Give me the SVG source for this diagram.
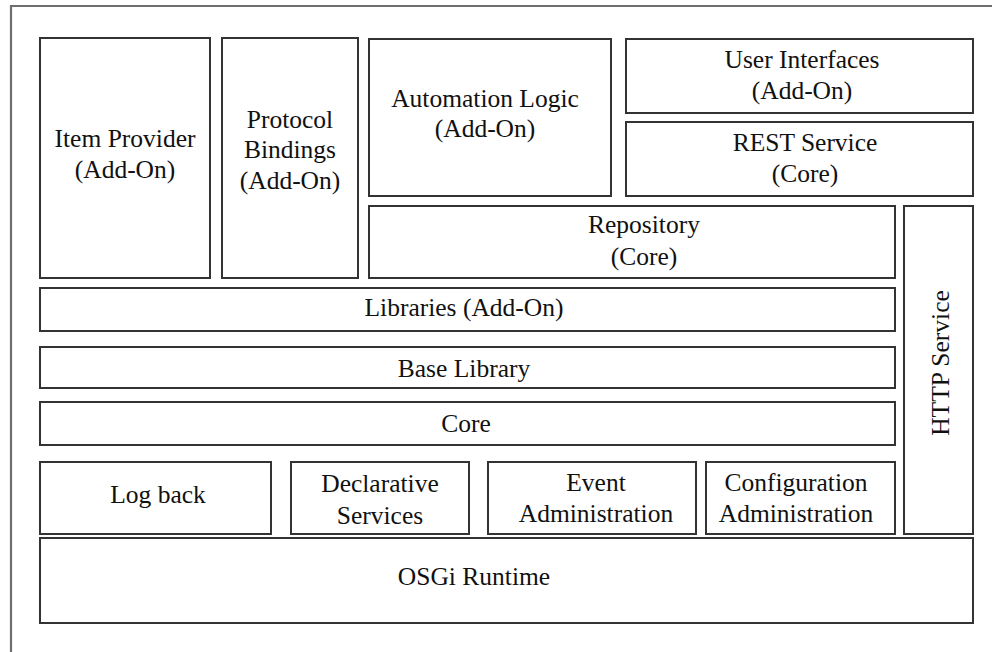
<svg xmlns="http://www.w3.org/2000/svg" width="992" height="652" viewBox="0 0 992 652">
<style>
  .box { fill: #ffffff; stroke: #333333; stroke-width: 2; }
  .frame { fill: none; stroke: #6e6e6e; stroke-width: 2.2; }
  text { font-family: "Liberation Serif", "Times New Roman", serif; font-size: 25.5px; fill: #111111; text-anchor: middle; }
</style>
<rect x="0" y="0" width="992" height="652" fill="#ffffff"/>
<path class="frame" d="M11,652 V6 H992"/>
<g id="item-provider">
  <rect class="box" x="40" y="38" width="170" height="240"/>
  <text x="125" y="147">Item Provider</text>
  <text x="125" y="178">(Add-On)</text>
</g>
<g id="protocol-bindings">
  <rect class="box" x="222" y="38" width="136" height="240"/>
  <text x="290" y="128">Protocol</text>
  <text x="290" y="158">Bindings</text>
  <text x="290" y="189">(Add-On)</text>
</g>
<g id="automation-logic">
  <rect class="box" x="369" y="39" width="242" height="157"/>
  <text x="485" y="107">Automation Logic</text>
  <text x="485" y="137">(Add-On)</text>
</g>
<g id="user-interfaces">
  <rect class="box" x="626" y="39" width="347" height="74"/>
  <text x="802" y="68">User Interfaces</text>
  <text x="802" y="99">(Add-On)</text>
</g>
<g id="rest-service">
  <rect class="box" x="626" y="122" width="347" height="74"/>
  <text x="805" y="151">REST Service</text>
  <text x="805" y="182">(Core)</text>
</g>
<g id="repository">
  <rect class="box" x="369" y="206" width="526" height="72"/>
  <text x="644" y="233">Repository</text>
  <text x="644" y="265">(Core)</text>
</g>
<g id="http-service">
  <rect class="box" x="904" y="206" width="69" height="328"/>
  <text x="0" y="0" transform="translate(949,363) rotate(-90)">HTTP Service</text>
</g>
<g id="libraries">
  <rect class="box" x="40" y="288" width="855" height="43"/>
  <text x="464" y="316">Libraries (Add-On)</text>
</g>
<g id="base-library">
  <rect class="box" x="40" y="347" width="855" height="41"/>
  <text x="464" y="377">Base Library</text>
</g>
<g id="core">
  <rect class="box" x="40" y="402" width="855" height="43"/>
  <text x="466" y="432">Core</text>
</g>
<g id="log-back">
  <rect class="box" x="40" y="462" width="231" height="72"/>
  <text x="158" y="503">Log back</text>
</g>
<g id="declarative-services">
  <rect class="box" x="291" y="462" width="178" height="72"/>
  <text x="380" y="492">Declarative</text>
  <text x="380" y="524">Services</text>
</g>
<g id="event-administration">
  <rect class="box" x="488" y="462" width="208" height="72"/>
  <text x="596" y="491">Event</text>
  <text x="596" y="522">Administration</text>
</g>
<g id="configuration-administration">
  <rect class="box" x="706" y="462" width="189" height="72"/>
  <text x="796" y="491">Configuration</text>
  <text x="796" y="522">Administration</text>
</g>
<g id="osgi-runtime">
  <rect class="box" x="40" y="538" width="933" height="85"/>
  <text x="474" y="585">OSGi Runtime</text>
</g>
<g id="connectors"></g>
</svg>
